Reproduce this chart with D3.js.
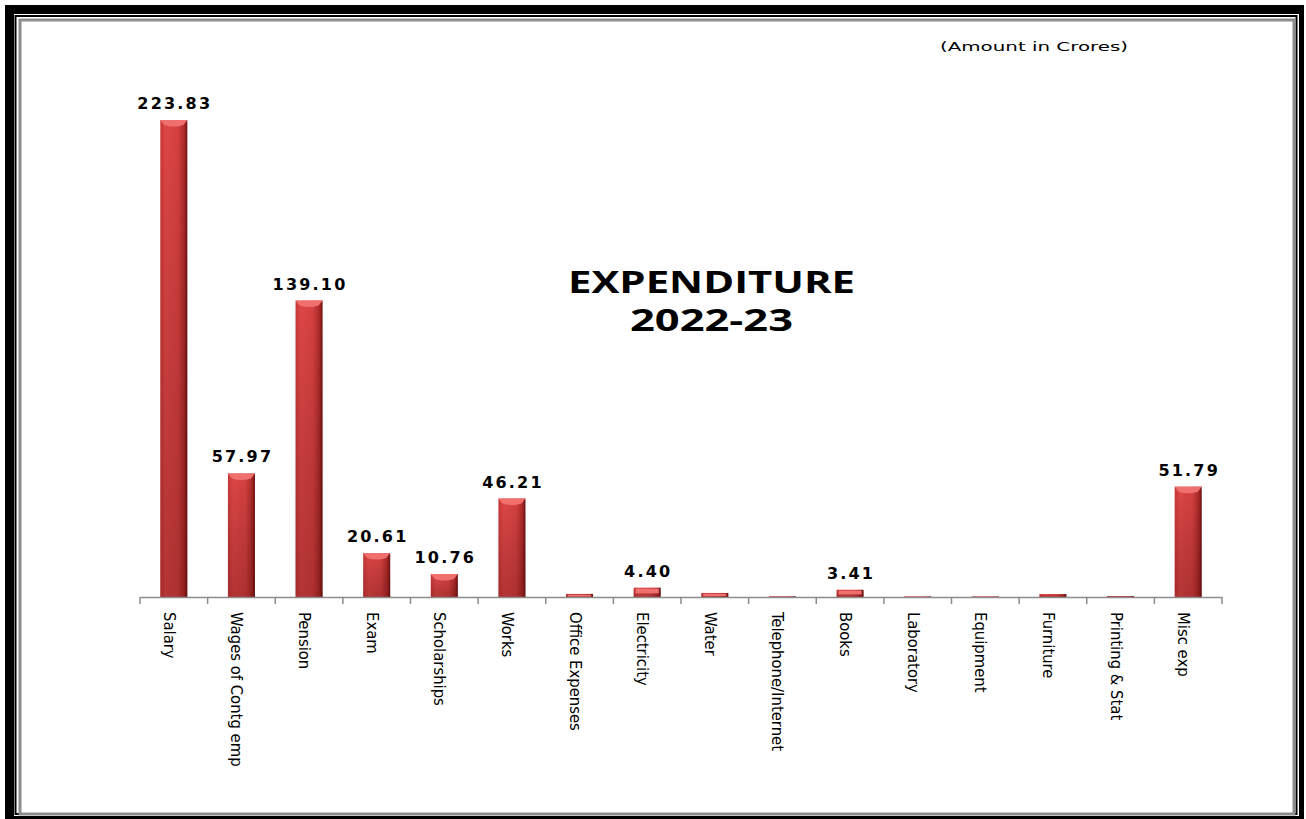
<!DOCTYPE html>
<html>
<head>
<meta charset="utf-8">
<script src="https://cdn.jsdelivr.net/npm/d3@7"></script>
<style>
  body { margin: 0; background: #fff; }
</style>
</head>
<body>
<div id="chart"></div>
<script>
const categories = ["Salary", "Wages of Contg emp", "Pension", "Exam", "Scholarships", "Works",
  "Office Expenses", "Electricity", "Water", "Telephone/Internet", "Books", "Laboratory",
  "Equipment", "Furniture", "Printing & Stat", "Misc exp"];
const values = [223.83, 57.97, 139.10, 20.61, 10.76, 46.21, 1.45, 4.40, 1.9, 0.35, 3.41, 0.3, 0.3, 1.4, 0.45, 51.79];
// only these bars carry a data label in the original
const labelled = [true, true, true, true, true, true, false, true, false, false, true, false, false, false, false, true];

const val = d => values[categories.indexOf(d)];

const W = 1306, H = 819;
const margin = {left: 140, right: 84, top: 120, bottom: 222};

const svg = d3.select("#chart").append("svg")
  .attr("width", W).attr("height", H);

// frame
svg.append("rect").attr("x", 5).attr("y", 5).attr("width", 1299).attr("height", 814).attr("fill", "#000");
svg.append("rect").attr("x", 14).attr("y", 14).attr("width", 1285).attr("height", 802).attr("fill", "#fff");
svg.append("rect").attr("x", 15.5).attr("y", 16).attr("width", 1281).attr("height", 798)
  .attr("fill", "none").attr("stroke", "#000").attr("stroke-width", 2);
svg.append("rect").attr("x", 20).attr("y", 20).attr("width", 1274).attr("height", 794).attr("fill", "#fff")
  .attr("stroke", "#8c8c8c").attr("stroke-width", 3);

const defs = svg.append("defs");
const grad = defs.append("linearGradient").attr("id", "barGrad").attr("x1", "0").attr("x2", "1").attr("y1", "0").attr("y2", "0");
grad.append("stop").attr("offset", "0%").attr("stop-color", "#c83838");
grad.append("stop").attr("offset", "20%").attr("stop-color", "#de4646");
grad.append("stop").attr("offset", "65%").attr("stop-color", "#d44040");
grad.append("stop").attr("offset", "88%").attr("stop-color", "#ad2a2a");
grad.append("stop").attr("offset", "100%").attr("stop-color", "#6e1010");
const shade = defs.append("linearGradient").attr("id", "barShade").attr("x1", "0").attr("x2", "0").attr("y1", "0").attr("y2", "1");
shade.append("stop").attr("offset", "0%").attr("stop-color", "#000").attr("stop-opacity", 0);
shade.append("stop").attr("offset", "100%").attr("stop-color", "#3a0000").attr("stop-opacity", 0.25);

const x = d3.scaleBand()
  .domain(categories)
  .range([margin.left, W - margin.right])
  .paddingInner(0.6).paddingOuter(0.3);

const baseY = H - margin.bottom;
const y = d3.scaleLinear()
  .domain([0, 223.83])
  .range([baseY, margin.top]);

// bars
const g = svg.append("g");
const bars = g.selectAll("g.bar").data(categories).join("g").attr("class", "bar");
bars.append("rect")
  .attr("x", d => x(d))
  .attr("y", d => y(val(d)))
  .attr("width", x.bandwidth())
  .attr("height", d => baseY - y(val(d)))
  .attr("fill", "url(#barGrad)");
bars.append("rect")
  .attr("x", d => x(d))
  .attr("y", d => y(val(d)))
  .attr("width", x.bandwidth())
  .attr("height", d => baseY - y(val(d)))
  .attr("fill", "url(#barShade)");
// top cap on the taller bars
bars.filter(d => baseY - y(val(d)) > 12)
  .append("path")
  .attr("d", d => {
    const x0 = x(d), w = x.bandwidth(), t = y(val(d));
    return `M${x0},${t} L${x0 + w},${t} L${x0 + w - 4},${t + 5} Q${x0 + w / 2},${t + 8} ${x0 + 4},${t + 5} Z`;
  })
  .attr("fill", "#f07070");
// lighter strip on the small bars
bars.filter(d => { const h = baseY - y(val(d)); return h > 3 && h <= 12; })
  .append("rect")
  .attr("x", d => x(d) + 2)
  .attr("y", d => y(val(d)) + 1)
  .attr("width", x.bandwidth() - 4)
  .attr("height", d => (baseY - y(val(d))) / 2)
  .attr("fill", "#f07070");

// x axis
const xAxis = d3.axisBottom(x).tickSize(0).tickFormat("");
svg.append("g")
  .attr("transform", `translate(0,${baseY})`)
  .call(xAxis)
  .call(s => s.select(".domain").attr("stroke", "#8c8c8c").attr("stroke-width", 1.5));

// tick marks between categories
const edges = d3.range(categories.length + 1).map(i => margin.left + i * (W - margin.left - margin.right) / categories.length);
svg.append("g").selectAll("line").data(edges).join("line")
  .attr("x1", d => d).attr("x2", d => d)
  .attr("y1", baseY).attr("y2", baseY + 7)
  .attr("stroke", "#8c8c8c").attr("stroke-width", 1.5);

// category labels, rotated
svg.append("g").selectAll("text").data(categories).join("text")
  .attr("transform", d => `translate(${x(d) + x.bandwidth() / 2 - 10},${baseY + 15}) rotate(90)`)
  .attr("font-family", "'Liberation Sans Narrow', 'DejaVu Sans Condensed', sans-serif")
  .attr("font-size", 16.5)
  .attr("fill", "#000")
  .text(d => d);

// value labels
svg.append("g").selectAll("text").data(categories.filter((d, i) => labelled[i])).join("text")
  .attr("x", d => x(d) + x.bandwidth() / 2 + 1)
  .attr("y", d => y(val(d)) - 11)
  .attr("text-anchor", "middle")
  .attr("font-family", "'DejaVu Sans', Verdana, sans-serif")
  .attr("font-weight", "bold")
  .attr("font-size", 16)
  .attr("letter-spacing", 2.2)
  .text(d => val(d).toFixed(2));

// title
svg.append("text")
  .attr("x", 568).attr("y", 293)
  .attr("font-family", "'Open Sans', sans-serif")
  .attr("font-weight", "bold")
  .attr("font-size", 31)
  .attr("textLength", 287)
  .attr("lengthAdjust", "spacingAndGlyphs")
  .text("EXPENDITURE");
svg.append("text")
  .attr("x", 630).attr("y", 331)
  .attr("font-family", "'Open Sans', sans-serif")
  .attr("font-weight", "bold")
  .attr("font-size", 31)
  .attr("textLength", 163)
  .attr("lengthAdjust", "spacingAndGlyphs")
  .text("2022-23");

svg.append("text")
  .attr("x", 940).attr("y", 51)
  .attr("font-family", "'DejaVu Sans', sans-serif")
  .attr("font-size", 13)
  .attr("textLength", 188)
  .attr("lengthAdjust", "spacingAndGlyphs")
  .text("(Amount in Crores)");
</script>
</body>
</html>
